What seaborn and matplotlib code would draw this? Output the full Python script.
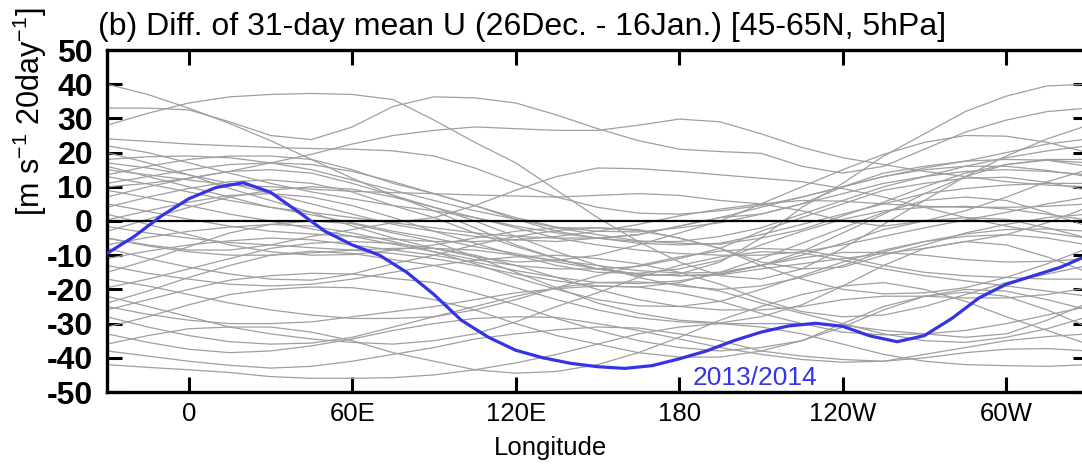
import matplotlib
matplotlib.use("Agg")
import matplotlib.pyplot as plt
import seaborn as sns
import pandas as pd

# ---------------- data ----------------
lon_gray = [-30, -15, 0, 15, 30, 45, 60, 75, 90, 105, 120, 135, 150, 165, 180,
            195, 210, 225, 240, 255, 270, 285, 300, 315, 330]

gray_01 = [40, 37, 33, 28.5, 23.5, 18, 12.5, 7.5, 3, -2, -7, -11, -14, -16, -15.5, -12, -5, 4, 11, 19, 25.5, 32, 36.5, 39.5, 40]
gray_02 = [28, 31.5, 34.5, 36.3, 37, 37.3, 37, 35.5, 29.5, 23, 17, 9, 1, -6, -12, -16, -17, -14, -8, -1, 6, 13, 19, 24, 28]
gray_03 = [33, 33, 32.5, 29, 25, 23.8, 27.5, 33.5, 36.3, 36, 34.5, 31, 27, 23.5, 21, 20.3, 19.8, 16, 14, 16, 21, 26, 29.5, 32, 33]
gray_04 = [10, 11, 12.5, 14.5, 17, 19.5, 22.5, 25, 26.5, 27.5, 27, 26.5, 26.5, 28, 29.8, 29, 25.5, 21.5, 18.5, 16.5, 14.5, 13, 11.5, 10.5, 10]
gray_05 = [24, 23.3, 22.5, 22, 21.5, 21.2, 21, 20.5, 19, 15.5, 11, 7, 4, 2.3, 2, 3, 4.5, 7, 10, 13, 15.5, 17.5, 20, 22.5, 24]
gray_06 = [22, 20, 17, 14, 11, 8.5, 6.5, 4.5, 3, 1, -1.5, -3.5, -5, -6, -6, -4.5, -2, 2, 6, 10, 13, 16, 18.5, 20.5, 22]
gray_07 = [-5, -7, -8.5, -8.5, -7, -4.5, -2.5, -0.5, 1, 4.5, 9, 13, 15.5, 15.3, 14.5, 13.5, 12.5, 11.5, 9.5, 7, 4, 1, -1.5, -3.5, -5]
gray_08 = [15, 13.5, 12, 10.5, 10, 9.3, 8.7, 8.3, 8, 7.6, 7.3, 7, 7.5, 8, 7.5, 6, 5, 3, 0, -1.5, 0, 3, 7, 11.5, 15]
gray_09 = [20, 17, 13.5, 9.5, 6, 2.5, -1.5, -5, -8, -10.5, -12, -11.5, -10, -7, -3.5, 0, 5, 10, 15, 19.5, 23, 25, 24.8, 23, 20]
gray_10 = [17, 15.5, 13.5, 11, 8, 5, 2, -1, -3, -4.5, -5.5, -6, -5, -4, -1.5, 1, 2, 5, 10, 14, 16, 17.5, 18, 17.8, 17]
gray_11 = [-42, -42.8, -43.5, -44.3, -45.5, -46, -46, -45.8, -45, -43.5, -41.5, -39, -36, -33, -31, -30, -31, -33, -36, -39, -41, -42, -42.3, -42.5, -42]
gray_12 = [-38, -39.5, -41, -42.2, -43, -42.5, -41, -39, -37, -34.5, -33, -31.8, -31, -31.3, -33, -35, -38, -39.5, -40.5, -41, -40, -38.5, -37.5, -37.3, -38]
gray_13 = [-36, -33.5, -31.5, -31, -31, -32.5, -35, -38.5, -41, -43.5, -44.5, -44, -42, -38.5, -34, -29, -25, -21.5, -19, -18, -20, -23.5, -28, -32, -36]
gray_14 = [-33, -35.5, -37.5, -38.5, -38, -36.5, -34.5, -32, -30, -28.5, -28, -28.2, -30, -32, -34.5, -37, -39, -40.5, -41.3, -41, -39, -37, -35, -33.8, -33]
gray_15 = [-31, -28, -24.5, -21.5, -20, -19.3, -19.5, -21, -23, -26, -30, -33.5, -36, -38.5, -39.8, -39.8, -38, -35, -30, -25, -22, -20.8, -22, -26, -31]
gray_16 = [-28, -31, -33.5, -35.3, -36, -35.7, -34, -31, -28, -25, -22, -19.5, -18, -17.8, -18.5, -20.5, -24, -27, -30, -33, -35, -35.5, -34, -31.5, -28]
gray_17 = [-26, -23, -20, -17.3, -16, -15.3, -15.5, -16.8, -18, -21, -24.5, -28.5, -32, -35, -37, -38, -37, -35, -31, -26, -22, -20, -20.5, -23, -26]
gray_18 = [-25, -27.3, -29, -30, -30, -29.5, -28, -26.5, -25, -23, -21, -19.8, -19, -19.3, -21, -23.5, -27, -30, -32.5, -33.3, -33, -32, -30, -27.5, -25]
gray_19 = [-24, -20.5, -16.5, -13, -10, -8.8, -9.5, -11.3, -13, -16, -19.5, -23, -26, -28.3, -29.5, -30, -30, -30, -30.5, -32, -33, -34, -33, -29, -24]
gray_20 = [-22, -25, -28, -31, -33, -34.5, -35.5, -36, -35, -33, -29.5, -25, -21, -16.5, -13, -10.5, -9, -9.3, -11.5, -14, -16, -17.5, -19, -20.5, -22]
gray_21 = [-19.5, -17, -14, -11, -8, -6.5, -6, -6.5, -8, -10, -13, -16.5, -20, -23, -25, -26, -26, -25, -23, -22, -22, -22.5, -22.5, -21.5, -19.5]
gray_22 = [-17, -19, -21.5, -24, -26, -27.5, -28.5, -28.5, -28, -26, -23, -19.5, -16, -13, -10.5, -8.8, -8, -8.5, -10.5, -13, -15, -16, -16.5, -17, -17]
gray_23 = [-15, -11.5, -7.5, -3.5, -1, 0, -0.8, -3.5, -6, -10.5, -15, -19.5, -24, -27, -29, -29.8, -28, -24.5, -19, -13, -8, -6, -7, -10.5, -15]
gray_24 = [-13, -15.3, -17, -18.5, -19, -18.5, -17, -15, -13, -11.5, -10.5, -10, -11, -12.5, -15, -18.5, -23, -26.5, -28, -27.5, -25, -21.5, -18, -15.5, -13]
gray_25 = [-11, -8.8, -7, -5.8, -5, -5.5, -7, -8.5, -10, -12, -14.5, -16.5, -18, -18.3, -17.5, -15.5, -13, -10.8, -9.2, -9.2, -10, -11.3, -12, -11.8, -11]
gray_26 = [-8, -11, -13.5, -15.5, -17, -17.3, -15.5, -12.5, -10, -7, -4.5, -2.8, -2, -2.5, -5, -8, -13, -17, -20, -21.3, -21, -19.5, -16.5, -12.5, -8]
gray_27 = [-7, -4.8, -3, -1.8, -1, -1.5, -3.5, -6, -9, -12.5, -16.5, -20, -23, -24.8, -25, -23.5, -20, -16, -12, -8.5, -6, -4.5, -4, -5, -7]
gray_28 = [-5, -7.3, -9, -10, -10, -9.3, -8.5, -8, -8, -8.5, -10, -11.5, -13, -14.5, -15.2, -15, -13, -10, -6.5, -2.5, 0, 1, 0.5, -2, -5]
gray_29 = [-3, 0.5, 4, 7, 9, 10, 9.3, 7, 4, 0, -4.5, -9, -13, -16.5, -19, -20, -19, -16.5, -13, -9, -6, -3.8, -2.5, -2.3, -3]
gray_30 = [-1.6, -3.5, -5, -6.3, -7, -7.8, -8.5, -9.5, -11, -13, -15.5, -17.5, -19, -19.3, -18, -15, -11, -6.5, -2, 2.5, 6, 7, 6, 2.5, -1.6]
gray_31 = [0.3, 3, 5.5, 7.5, 8, 7, 4.5, 1, -3, -6.5, -10, -13, -15, -15.3, -14, -11.5, -7, -3, 0.5, 3, 4, 4.3, 3.5, 2, 0.3]
gray_32 = [2, -1, -4, -7, -9, -10, -9.8, -8.5, -7, -5, -3, -2, -2, -2.8, -5, -8, -12, -14, -13.5, -10, -7, -3.5, -1, 1, 2]
gray_33 = [4, 7, 9.5, 11.5, 12, 11, 8.5, 4.5, 1, -3.5, -7.5, -11, -14, -15.5, -16, -15.8, -14, -12.5, -11, -9.5, -8, -6, -4, -0.5, 4]
gray_34 = [5, 2.8, 0.5, -1.5, -3, -3.8, -4.5, -5.3, -6, -6, -5.5, -4.5, -3, -1, 1.5, 3.5, 5, 6, 5.8, 5, 4.3, 4, 4, 4.3, 5]
gray_35 = [7, 10, 12.5, 14.5, 15, 14, 11, 7.5, 4, 1, -2, -5, -7, -8.5, -9.5, -10, -10, -9, -7, -4.5, -2, 0.3, 2.5, 5, 7]
gray_36 = [9, 6.8, 4.5, 2, 0, -2.3, -4.5, -6.8, -9, -11.3, -13, -14, -14, -13.3, -11, -8, -3, 1, 5, 9, 11, 12.5, 12.8, 11.3, 9]
gray_37 = [11, 13, 15, 16.5, 17, 16.5, 14.5, 11.5, 8, 4.5, 0.5, -3, -5, -6.5, -7, -6.5, -4, -1, 2, 5, 8, 9.5, 10.5, 11, 11]
gray_38 = [13, 10.8, 8.5, 6, 4, 2.5, 1, -0.5, -2, -3.5, -4.5, -5, -5, -4, -1.5, 1, 4, 7, 10, 13, 15, 16, 16, 14.8, 13]
gray_39 = [13.5, 16, 18, 19, 19, 18, 15, 11, 8, 4.5, 1, -1.8, -3, -3.2, -2, -0.5, 2, 5, 8, 11, 13, 14.5, 15, 14.5, 13.5]
gray_40 = [16, 13, 10, 7, 4, 1.8, -0.5, -3, -5, -7.5, -9.5, -12, -14, -15.5, -16, -15.5, -13, -9, -3.5, 2, 8, 13, 16.5, 17.8, 16]
gray_41 = [18, 18.8, 19, 18.5, 17, 15, 12, 9, 6, 3, 0.5, -2, -4, -5.8, -6.5, -6.8, -5, -2.5, 1.5, 5.5, 10, 14, 16.5, 18, 18]

gray_series = [gray_01, gray_02, gray_03, gray_04, gray_05, gray_06, gray_07, gray_08,
               gray_09, gray_10, gray_11, gray_12, gray_13, gray_14, gray_15, gray_16,
               gray_17, gray_18, gray_19, gray_20, gray_21, gray_22, gray_23, gray_24,
               gray_25, gray_26, gray_27, gray_28, gray_29, gray_30, gray_31, gray_32,
               gray_33, gray_34, gray_35, gray_36, gray_37, gray_38, gray_39, gray_40,
               gray_41]

lon_blue = [-30, -20, -10, 0, 10, 20, 30, 40, 50, 60, 70, 80, 90, 100, 110, 120, 130,
            140, 150, 160, 170, 180, 190, 200, 210, 220, 230, 240, 250, 260, 270, 280,
            290, 300, 310, 320, 330]
u_2013_2014 = [-9.5, -4.5, 1.5, 6.5, 9.8, 11.2, 8.4, 2.8, -3, -7, -10, -15, -21.5, -29,
               -34, -37.8, -40, -41.6, -42.6, -43.1, -42.3, -40.3, -38, -35, -32.5, -30.7,
               -29.9, -30.8, -33.6, -35.3, -33.5, -28.5, -22.5, -18.5, -16, -13.5, -10]

xtick_pos = [0, 60, 120, 180, 240, 300]
xtick_labels = ["0", "60E", "120E", "180", "120W", "60W"]
ytick_pos = [-50, -40, -30, -20, -10, 0, 10, 20, 30, 40, 50]

title_text = "(b) Diff. of 31-day mean U (26Dec. - 16Jan.) [45-65N, 5hPa]"
ylabel_text = "[m s$^{-1}$ 20day$^{-1}$]"
xlabel_text = "Longitude"
highlight_label = "2013/2014"

# ---------------- build table ----------------
rows = []
for i, series in enumerate(gray_series):
    for lo, v in zip(lon_gray, series):
        rows.append({"member": i, "lon": lo, "u": v})
df_gray = pd.DataFrame(rows)
df_blue = pd.DataFrame({"lon": lon_blue, "u": u_2013_2014})

# ---------------- plot ----------------
sns.set_style("ticks")
plt.rcParams["font.family"] = ["Liberation Sans", "DejaVu Sans"]
plt.rcParams["axes.unicode_minus"] = False
plt.rcParams["text.color"] = "black"
plt.rcParams["axes.edgecolor"] = "black"
plt.rcParams["xtick.color"] = "black"
plt.rcParams["ytick.color"] = "black"
plt.rcParams["axes.labelcolor"] = "black"
plt.rcParams["mathtext.fontset"] = "custom"
plt.rcParams["mathtext.rm"] = "Liberation Sans"
plt.rcParams["mathtext.it"] = "Liberation Sans:italic"
plt.rcParams["mathtext.bf"] = "Liberation Sans:bold"

W, H = 1082, 466
fig = plt.figure(figsize=(W / 100, H / 100), dpi=100)
ax = fig.add_axes([107 / W, (H - 392) / H, 981 / W, 342 / H])

sns.lineplot(data=df_gray, x="lon", y="u", units="member", estimator=None,
             color="#9f9f9f", linewidth=0.9, ax=ax, legend=False)
ax.axhline(0, color="black", linewidth=1.6, zorder=3)
sns.lineplot(data=df_blue, x="lon", y="u", color="#3434e6", linewidth=2.3,
             ax=ax, legend=False, zorder=4)

ax.set_xlim(-30, 330)
ax.set_ylim(-50, 50)
ax.set_xticks(xtick_pos)
ax.set_xticklabels(xtick_labels, fontsize=18.5)
ax.set_yticks(ytick_pos)
ax.set_yticklabels([str(v) for v in ytick_pos], fontsize=23, fontweight="bold")
ax.tick_params(axis="both", direction="in", length=11, width=2.2,
               top=True, right=True, colors="black")
ax.tick_params(axis="y", pad=10)
ax.tick_params(axis="x", pad=7)
for s in ax.spines.values():
    s.set_linewidth(2.4)
    s.set_color("black")
    s.set_visible(True)
ax.set_xlabel("")
ax.set_ylabel("")

ax.text(185, -48, highlight_label, color="#3434e6", fontsize=19,
        ha="left", va="baseline")

fig.text(98 / W, 1 - 35 / H, title_text, fontsize=23, ha="left", va="baseline")
fig.text(550 / W, 1 - 455 / H, xlabel_text, fontsize=18.5, ha="center",
         va="baseline")
fig.text(30 / W, 1 - 112 / H, ylabel_text, fontsize=22, rotation=90,
         ha="center", va="center")

fig.savefig("out.png", dpi=100)
